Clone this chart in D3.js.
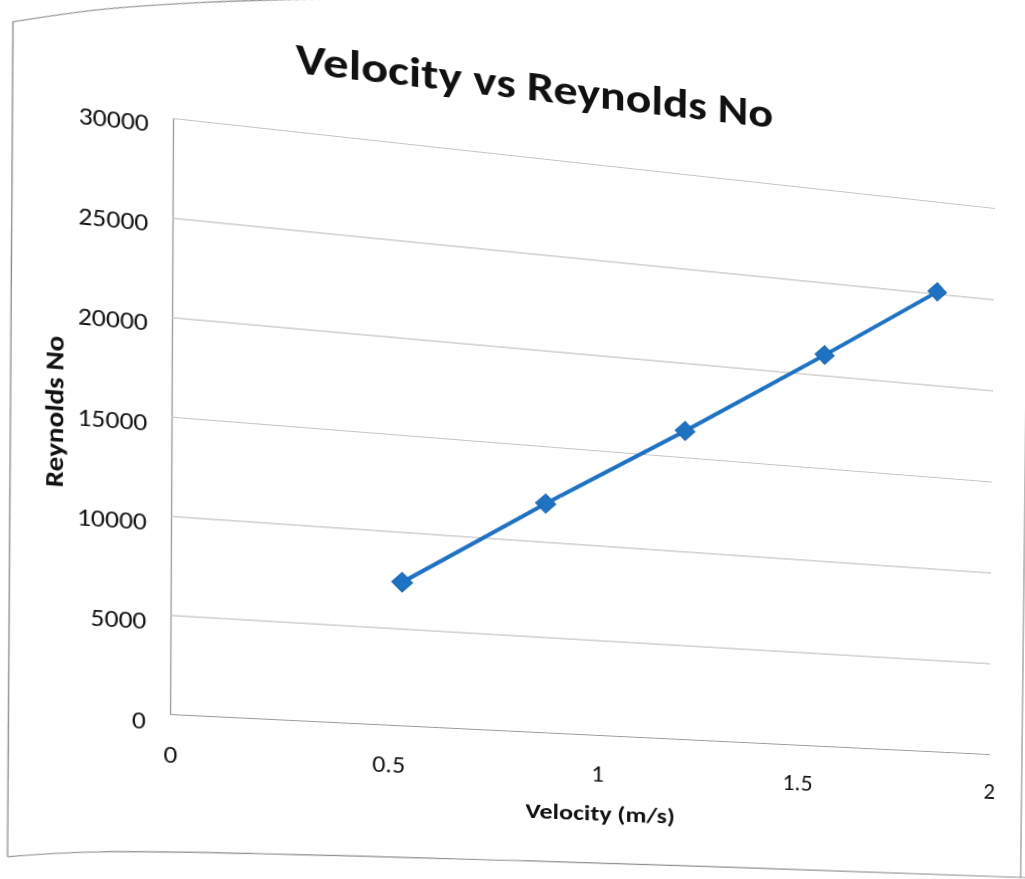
<!DOCTYPE html>
<html>
<head>
<meta charset="utf-8">
<script src="https://cdnjs.cloudflare.com/ajax/libs/d3/7.8.5/d3.min.js"></script>
<style>
  html, body { margin: 0; padding: 0; background: #ffffff; overflow: hidden; width: 1025px; height: 879px; }
  #chart { position: absolute; left: 0; top: 0; transform-origin: 0 0; overflow: visible; }
  text { font-family: Carlito, Calibri, Lato, "Open Sans", sans-serif; fill: #111; }
</style>
</head>
<body>
<svg id="chart" width="1025" height="879"></svg>
<script>
// data
const velocity = [0.53, 0.87, 1.21, 1.56, 1.85];
const reynolds = [7400, 12000, 16400, 21100, 25100];
const xTicks = [0, 0.5, 1, 1.5, 2];
const yTicks = [0, 5000, 10000, 15000, 20000, 25000, 30000];
const chartTitle = "Velocity vs Reynolds No";
const xTitle = "Velocity (m/s)";
const yTitle = "Reynolds No";

const plotLeft = 170, plotTop = 118, plotW = 819, plotH = 596;

const svg = d3.select("#chart");

// chart area border (the paper is a bit curled in the photo)
const edge = d3.line().curve(d3.curveCatmullRom);
const frameEdges = [
    [[26, 41], [103, 19], [194, 0], [277, -14], [400, -32]],   // top
    [[1025, -40], [1025, 848]],                                // right
    [[1030, 848], [500, 849], [107, 855], [24, 863]],          // bottom
    [[24, 863], [26, 41]]                                      // left
];
svg.selectAll("path.frame")
    .data(frameEdges)
    .enter().append("path")
    .attr("class", "frame")
    .attr("d", edge)
    .attr("fill", "none")
    .attr("stroke", "#8c8c8c")
    .attr("stroke-width", 1.2);

const x = d3.scaleLinear().domain([0, 2]).range([0, plotW]);
const y = d3.scaleLinear().domain([0, 30000]).range([plotH, 0]);

const g = svg.append("g").attr("transform", `translate(${plotLeft},${plotTop})`);

// y axis + gridlines
const yAxis = g.append("g")
    .call(d3.axisLeft(y).tickValues(yTicks).tickFormat(d3.format("d"))
        .tickSize(-plotW).tickSizeOuter(0).tickPadding(22));
yAxis.select(".domain").attr("stroke", "#9a9a9a").attr("stroke-width", 1.2);
yAxis.selectAll(".tick line").attr("stroke", "#c4c4c4").attr("stroke-width", 1.1);
yAxis.selectAll(".tick text")
    .attr("dy", "0.6em")
    .style("font-size", "25px")
    .style("font-family", null);

// x axis
const xAxis = g.append("g")
    .attr("transform", `translate(0,${plotH})`)
    .call(d3.axisBottom(x).tickValues(xTicks).tickFormat(d => d)
        .tickSize(0).tickPadding(31));
xAxis.select(".domain").attr("stroke", "#9a9a9a").attr("stroke-width", 1.2);
xAxis.selectAll(".tick text")
    .style("font-size", "25px")
    .style("font-family", null);

// series
const pts = velocity.map((v, i) => [v, reynolds[i]]);
const line = d3.line().x(d => x(d[0])).y(d => y(d[1]));

g.append("path")
    .datum(pts)
    .attr("d", line)
    .attr("fill", "none")
    .attr("stroke", "#1f72c2")
    .attr("stroke-width", 4);

g.selectAll("path.marker")
    .data(pts)
    .enter().append("path")
    .attr("class", "marker")
    .attr("d", d3.symbol(d3.symbolSquare, 200))
    .attr("transform", d => `translate(${x(d[0])},${y(d[1])}) rotate(45)`)
    .attr("fill", "#1f72c2")
    .attr("stroke", "#1a66b0")
    .attr("stroke-width", 1);

// titles
svg.append("text")
    .attr("x", 518).attr("y", 59)
    .attr("text-anchor", "middle")
    .attr("textLength", 470)
    .attr("lengthAdjust", "spacingAndGlyphs")
    .style("font-size", "42px")
    .style("font-weight", "bold")
    .text(chartTitle);

svg.append("text")
    .attr("x", plotLeft + plotW / 2 + 4).attr("y", 804)
    .attr("text-anchor", "middle")
    .attr("textLength", 150)
    .attr("lengthAdjust", "spacingAndGlyphs")
    .style("font-size", "23px")
    .style("font-weight", "bold")
    .text(xTitle);

svg.append("text")
    .attr("transform", "translate(72,420) rotate(-90)")
    .attr("text-anchor", "middle")
    .attr("textLength", 150)
    .attr("lengthAdjust", "spacingAndGlyphs")
    .style("font-size", "23px")
    .style("font-weight", "bold")
    .text(yTitle);

// the photo is taken at an angle: map the flat chart onto the measured plot corners
function homography(src, dst) {
    const A = [], b = [];
    for (let i = 0; i < 4; i++) {
        const [sx, sy] = src[i], [dx, dy] = dst[i];
        A.push([sx, sy, 1, 0, 0, 0, -sx * dx, -sy * dx]); b.push(dx);
        A.push([0, 0, 0, sx, sy, 1, -sx * dy, -sy * dy]); b.push(dy);
    }
    const n = 8;
    for (let c = 0; c < n; c++) {
        let p = c;
        for (let r = c + 1; r < n; r++) if (Math.abs(A[r][c]) > Math.abs(A[p][c])) p = r;
        [A[c], A[p]] = [A[p], A[c]]; [b[c], b[p]] = [b[p], b[c]];
        for (let r = 0; r < n; r++) {
            if (r === c) continue;
            const f = A[r][c] / A[c][c];
            for (let k = c; k < n; k++) A[r][k] -= f * A[c][k];
            b[r] -= f * b[c];
        }
    }
    return b.map((v, i) => v / A[i][i]);
}

const flatCorners = [[plotLeft, plotTop], [plotLeft + plotW, plotTop],
    [plotLeft + plotW, plotTop + plotH], [plotLeft, plotTop + plotH]];
const photoCorners = [[173, 118], [995, 208], [989, 754], [170, 714]];
const [a, bb, c, d, e, f, gg, hh] = homography(flatCorners, photoCorners);

d3.select("#chart").style("transform",
    `matrix3d(${a},${d},0,${gg},${bb},${e},0,${hh},0,0,1,0,${c},${f},0,1)`);
</script>
</body>
</html>
